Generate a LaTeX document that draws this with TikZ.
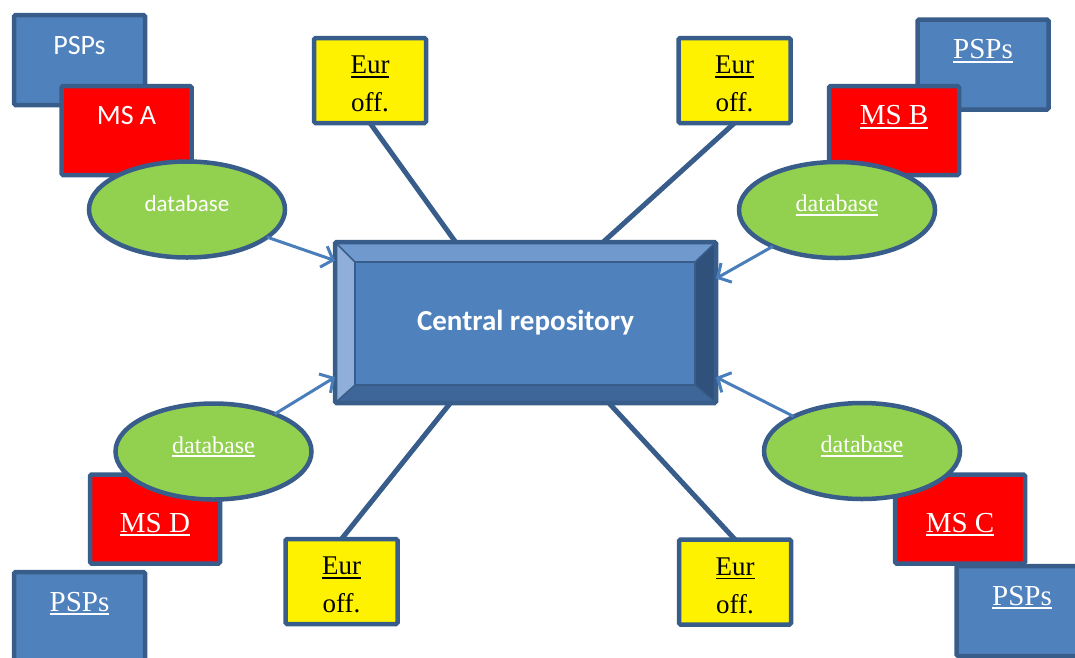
\documentclass[tikz,border=0pt]{standalone}
\usepackage{fontspec}
\setmainfont{Liberation Serif}
\newfontfamily\calibri{Carlito}
\usetikzlibrary{calc, backgrounds, shapes.geometric, arrows.meta}

\definecolor{boxblue}{HTML}{4F81BD}
\definecolor{bordblue}{HTML}{385D8A}
\definecolor{dbgreen}{HTML}{92D050}
\definecolor{arrowblue}{HTML}{4A7EBB}
\definecolor{bevtop}{HTML}{7099CD}
\definecolor{bevleft}{HTML}{90AEDA}
\definecolor{bevright}{HTML}{30517C}
\definecolor{bevbottom}{HTML}{3F6698}

\newcommand{\undl}[1]{{\setbox0\hbox{#1}\rlap{\rule[-4pt]{\wd0}{1.8pt}}\box0}}
\newcommand{\eurtext}{\rule{0pt}{25pt}\undl{Eur}\\off.}

\begin{document}
\begin{tikzpicture}[
	x=1pt, y=-1pt,
	boxframe/.style={draw=bordblue, line width=4.5pt, rounded corners=1.5pt, inner sep=0pt, outer sep=0pt},
	pspbox/.style={boxframe, fill=boxblue, text=white, minimum width=131pt, minimum height=90pt, text height=22pt, text depth=34pt},
	msbox/.style={boxframe, fill=red, text=white, minimum width=130pt, minimum height=89pt, text height=22pt, text depth=34pt},
	lowtext/.style={text height=48pt, text depth=22pt},
	eurbox/.style={boxframe, fill=yellow, minimum width=112pt, minimum height=85pt, align=center, font=\fontsize{27}{38}\selectfont},
	dbell/.style={ellipse, draw=bordblue, line width=4.5pt, fill=dbgreen, text=white, minimum width=196pt, minimum height=96pt, inner sep=0pt, outer sep=0pt, text height=13pt, text depth=10pt},
	serifbig/.style={font=\fontsize{29}{34}\selectfont},
	sansbig/.style={font=\calibri\fontsize{28}{32}\selectfont},
	dbserif/.style={font=\fontsize{24}{28}\selectfont},
	eurline/.style={draw=bordblue, line width=5pt},
	dbarrow/.style={draw=arrowblue, line width=3pt, -{Straight Barb[length=10pt, width=22pt]}}
	]
	\useasboundingbox (0,0) rectangle (1075,657);
	\clip (0,0) rectangle (1075,657);

	\node[boxframe, minimum width=381pt, minimum height=161pt, text=white, font=\calibri\bfseries\fontsize{29}{34}\selectfont] (cr) at (525.5,322.5) {Central repository};
	\begin{scope}[on background layer]
		\coordinate (inw) at ($(cr.north west)+(20pt,-20pt)$);
		\coordinate (ine) at ($(cr.north east)+(-21pt,-20pt)$);
		\coordinate (ise) at ($(cr.south east)+(-21pt,18pt)$);
		\coordinate (isw) at ($(cr.south west)+(20pt,18pt)$);
		\fill[bevtop] (cr.north west) -- (cr.north east) -- (ine) -- (inw) -- cycle;
		\fill[bevleft] (cr.north west) -- (inw) -- (isw) -- (cr.south west) -- cycle;
		\fill[bevright] (cr.north east) -- (cr.south east) -- (ise) -- (ine) -- cycle;
		\fill[bevbottom] (cr.south west) -- (isw) -- (ise) -- (cr.south east) -- cycle;
		\draw[bordblue, line width=1.5pt, fill=boxblue] (inw) rectangle (ise);
		\draw[bordblue, line width=1.5pt] (cr.north west) -- (inw) (cr.north east) -- (ine) (cr.south east) -- (ise) (cr.south west) -- (isw);
	\end{scope}

	\node[pspbox, sansbig] (psA) at (79.5,60) {PSPs};
	\node[msbox, sansbig] (msA) at (126.5,130.5) {MS A};
	\node[dbell, font=\calibri\fontsize{23}{27}\selectfont] (dbA) at (187,209.5) {database};

	\node[pspbox, serifbig] (psB) at (983,64.5) {\undl{PSPs}};
	\node[msbox, serifbig] (msB) at (894,130.5) {\undl{MS B}};
	\node[dbell, dbserif] (dbB) at (837,210) {\undl{database}};

	\node[pspbox, serifbig] (psD) at (79.5,617) {\undl{PSPs}};
	\node[msbox, lowtext, serifbig] (msD) at (155,519) {\undl{MS D}};
	\node[dbell, dbserif] (dbD) at (213.5,451.5) {\undl{database}};

	\node[msbox, lowtext, serifbig] (msC) at (960,519) {\undl{MS C}};
	\node[pspbox, serifbig] (psC) at (1022,611) {\undl{PSPs}};
	\node[dbell, dbserif] (dbC) at (862,451) {\undl{database}};

	\node[eurbox] (eurA) at (370,80.5) {\eurtext};
	\node[eurbox] (eurB) at (734.5,80.5) {\eurtext};
	\node[eurbox] (eurD) at (341.5,581.5) {\eurtext};
	\node[eurbox] (eurC) at (735,582) {\eurtext};

	\draw[eurline] (eurA.south) -- (cr.131);
	\draw[eurline] (eurB.south) -- (cr.46);
	\draw[eurline] (eurD.north) -- (cr.227);
	\draw[eurline] (eurC.north) -- (cr.316);

	\draw[dbarrow] (dbA) -- (cr.162);
	\draw[dbarrow] (dbB) -- (cr.13);
	\draw[dbarrow] (dbD) -- (cr.196);
	\draw[dbarrow] (dbC) -- (cr.344);
\end{tikzpicture}
\end{document}
